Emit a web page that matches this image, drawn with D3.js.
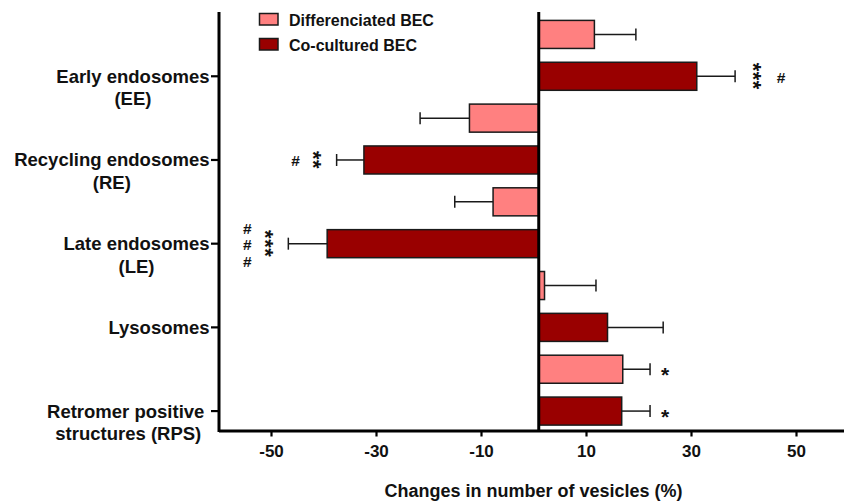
<!DOCTYPE html>
<html>
<head>
<meta charset="utf-8">
<script src="https://cdn.jsdelivr.net/npm/d3@7"></script>
<style>
  html, body { margin: 0; padding: 0; background: #fff; }
  svg { display: block; font-family: "Liberation Sans", Arial, sans-serif; }
</style>
</head>
<body>
<svg id="chart" width="844" height="503"></svg>
<script>
// ---------- data ----------
const categories = ["EE", "RE", "LE", "Lyso", "RPS"];
const categoryLabels = [
  ["Early endosomes", "(EE)"],
  ["Recycling endosomes", "(RE)"],
  ["Late endosomes", "(LE)"],
  ["Lysosomes"],
  ["Retromer positive\u00a0", "structures (RPS)"]
];
const seriesNames = ["Differenciated BEC", "Co-cultured BEC"];
const differentiated    = [11.6, -12.2, -7.7, 2.1, 17.0];
const differentiatedErr = [7.9, 9.4, 7.3, 9.8, 5.2];
const coCultured        = [31.1, -32.3, -39.3, 14.1, 16.8];
const coCulturedErr     = [7.3, 5.2, 7.4, 10.6, 5.4];
const starsDiff = ["", "", "", "", "*"];
const hashDiff  = ["", "", "", "", ""];
const starsCo   = ["***", "**", "***", "", "*"];
const hashCo    = ["#", "#", "###", "", ""];
const xTicks = [-50, -30, -10, 10, 30, 50];
const xDomain = [-60, 60];
const baseline = 1;
const xTitle = "Changes in number of vesicles (%)";
const colors = ["#FF8080", "#990000"];

// ---------- build rows ----------
const rows = [];
categories.forEach((c, i) => {
  rows.push({cat: c, s: seriesNames[0], v: differentiated[i], e: differentiatedErr[i], stars: starsDiff[i], hash: hashDiff[i], color: colors[0]});
  rows.push({cat: c, s: seriesNames[1], v: coCultured[i], e: coCulturedErr[i], stars: starsCo[i], hash: hashCo[i], color: colors[1]});
});

const svg = d3.select("#chart");
const x = d3.scaleLinear().domain(xDomain).range([218.5, 848.5]);
const yOuter = d3.scaleBand().domain(categories).range([13.5, 432]);
const yInner = d3.scaleBand().domain(seriesNames).range([0, yOuter.bandwidth()])
  .paddingInner(0.33).paddingOuter(0.165);
const yBar = d => yOuter(d.cat) + yInner(d.s);
const yMid = d => yBar(d) + yInner.bandwidth() / 2;
const yTick = c => yOuter(c) + yInner(seriesNames[1]) + yInner.bandwidth() / 2;

// ---------- bars ----------
svg.append("g").selectAll("rect").data(rows).join("rect")
  .attr("x", d => Math.min(x(baseline), x(d.v)))
  .attr("width", d => Math.abs(x(d.v) - x(baseline)))
  .attr("y", yBar)
  .attr("height", yInner.bandwidth())
  .attr("fill", d => d.color)
  .attr("stroke", "#1a1a1a")
  .attr("stroke-width", 1.5);

// ---------- error bars ----------
const dir = d => (d.v >= baseline ? 1 : -1);
const capX = d => x(d.v + dir(d) * d.e);
const eg = svg.append("g").attr("stroke", "#1a1a1a").attr("stroke-width", 1.5);
eg.selectAll("line.whisk").data(rows).join("line").attr("class", "whisk")
  .attr("x1", d => x(d.v)).attr("x2", capX)
  .attr("y1", yMid).attr("y2", yMid);
eg.selectAll("line.cap").data(rows).join("line").attr("class", "cap")
  .attr("x1", capX).attr("x2", capX)
  .attr("y1", d => yMid(d) - 6).attr("y2", d => yMid(d) + 6);

// ---------- significance marks ----------
const ag = svg.append("g").attr("fill", "#111").attr("font-weight", "bold");
rows.forEach(d => {
  const cy = yMid(d);
  let sx = capX(d) + dir(d) * (d.v >= baseline ? 23 : 18);
  if (d.stars) {
    if (d.stars.length > 1) {
      ag.append("text")
        .attr("transform", `translate(${sx},${cy}) rotate(90)`)
        .attr("text-anchor", "middle").attr("dy", "0.57em")
        .attr("font-size", 22).attr("letter-spacing", 0.5).text(d.stars);
    } else {
      sx = capX(d) + dir(d) * 15;
      ag.append("text").attr("x", sx).attr("y", cy)
        .attr("text-anchor", "middle").attr("dy", "0.6em")
        .attr("font-size", 21).text(d.stars);
    }
  }
  if (d.hash) {
    const hx = sx + dir(d) * 23;
    const n = d.hash.length;
    for (let i = 0; i < n; i++) {
      ag.append("text").attr("x", hx).attr("y", cy + (i - (n - 1) / 2) * 16.5 + 1)
        .attr("text-anchor", "middle").attr("dy", "0.35em")
        .attr("font-size", 15.5).text("#");
    }
  }
});

// ---------- baseline (zero) line ----------
svg.append("line")
  .attr("x1", x(baseline)).attr("x2", x(baseline))
  .attr("y1", 12).attr("y2", 431)
  .attr("stroke", "#000").attr("stroke-width", 3);

// ---------- x axis ----------
const xAxis = svg.append("g").attr("transform", "translate(0,430.5)")
  .call(d3.axisBottom(x).tickValues(xTicks).tickSize(6).tickSizeOuter(0).tickPadding(8)
    .tickFormat(d3.format("d")));
xAxis.select(".domain").attr("stroke", "#000").attr("stroke-width", 3);
xAxis.selectAll(".tick line").attr("stroke", "#000").attr("stroke-width", 2.2);
xAxis.selectAll(".tick text").attr("font-size", 17).attr("font-weight", "bold")
  .attr("fill", "#111").attr("font-family", "'Liberation Sans', Arial, sans-serif")
  .text(d => d < 0 ? "-" + Math.abs(d) : d);

// ---------- y axis ----------
svg.append("line").attr("x1", 219).attr("x2", 219).attr("y1", 12).attr("y2", 432)
  .attr("stroke", "#000").attr("stroke-width", 3);
const yg = svg.append("g");
categories.forEach((c, i) => {
  const ty = yTick(c);
  yg.append("line").attr("x1", 211).attr("x2", 219).attr("y1", ty).attr("y2", ty)
    .attr("stroke", "#000").attr("stroke-width", 2.2);
  const lines = categoryLabels[i];
  const texts = lines.map((t, j) => yg.append("text")
    .attr("y", ty + j * 22.5).attr("dy", "0.35em")
    .attr("text-anchor", "middle")
    .attr("font-size", 18.5).attr("font-weight", "bold").attr("fill", "#111")
    .text(t));
  const maxW = d3.max(texts, t => t.node().getComputedTextLength());
  texts.forEach(t => t.attr("x", 209.5 - maxW / 2));
});

// ---------- x title ----------
svg.append("text").attr("x", (x.range()[0] + x.range()[1]) / 2).attr("y", 497)
  .attr("text-anchor", "middle").attr("font-size", 18).attr("font-weight", "bold")
  .attr("fill", "#111").text(xTitle);

// ---------- legend ----------
const lg = svg.append("g");
seriesNames.forEach((s, i) => {
  lg.append("rect").attr("x", 259.5).attr("y", 13.5 + i * 25).attr("width", 18.5).attr("height", 11.5)
    .attr("fill", colors[i]).attr("stroke", "#1a1a1a").attr("stroke-width", 1.5);
  lg.append("text").attr("x", 289).attr("y", 25.5 + i * 25)
    .attr("font-size", 16).attr("font-weight", "bold").attr("fill", "#111").text(s);
});
</script>
</body>
</html>
